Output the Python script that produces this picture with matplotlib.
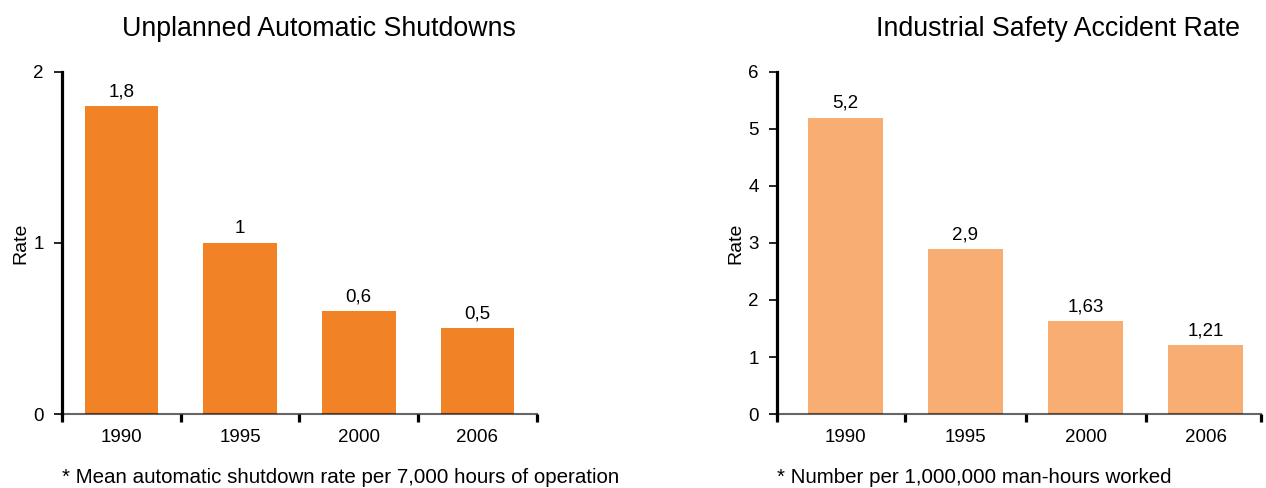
import matplotlib.pyplot as plt
from matplotlib.ticker import FixedLocator

plt.rcParams['font.family'] = ['Liberation Sans', 'DejaVu Sans']

years = ['1990', '1995', '2000', '2006']

shutdown_rate = [1.8, 1, 0.6, 0.5]
accident_rate = [5.2, 2.9, 1.63, 1.21]

shutdown_title = 'Unplanned Automatic Shutdowns'
accident_title = 'Industrial Safety Accident Rate'
shutdown_note = '* Mean automatic shutdown rate per 7,000 hours of operation'
accident_note = '* Number per 1,000,000 man-hours worked'

shutdown_yticks = [0, 1, 2]
accident_yticks = [0, 1, 2, 3, 4, 5, 6]


def fmt(v):
    # decimal comma, drop trailing ".0"
    s = f'{v:g}'
    return s.replace('.', ',')


def draw_panel(ax, values, color, yticks, xlim, width, title, note):
    x = range(len(values))
    ax.bar(x, values, width=width, color=color, zorder=2)
    for xi, v in zip(x, values):
        ax.annotate(fmt(v), (xi, v), xytext=(0, 4), textcoords='offset points',
                    ha='center', va='bottom', fontsize=13.5)

    ax.set_xlim(*xlim)
    ax.set_ylim(yticks[0], yticks[-1])

    for side in ('top', 'right'):
        ax.spines[side].set_visible(False)
    ax.spines['left'].set_linewidth(2.3)
    ax.spines['left'].set_color('black')
    ax.spines['bottom'].set_linewidth(1.5)
    ax.spines['bottom'].set_color((0, 0, 0, 0.6))
    ax.spines['bottom'].set_zorder(3)

    ax.set_yticks(yticks)
    ax.set_yticklabels([str(t) for t in yticks])
    ax.tick_params(axis='y', direction='out', length=6, width=1.2,
                   labelsize=13.5, pad=7)

    # labels under bars, short separator ticks between categories
    ax.set_xticks(list(x))
    ax.set_xticklabels(years)
    ax.tick_params(axis='x', which='major', length=0, labelsize=13.5, pad=11)
    seps = [xlim[0]] + [i + 0.5 for i in range(len(values) - 1)] + [xlim[1]]
    ax.xaxis.set_minor_locator(FixedLocator(seps))
    ax.tick_params(axis='x', which='minor', direction='out', length=6,
                   width=2.3, color='black')

    ax.set_ylabel('Rate', fontsize=14, labelpad=3)

    ax.text(0.957, 1.125, title, transform=ax.transAxes, ha='right',
            va='center', fontsize=19.3)
    ax.text(0.0, -0.185, note, transform=ax.transAxes, ha='left',
            va='center', fontsize=14.8)


fig = plt.figure(figsize=(12.66, 4.88), dpi=100)
ax1 = fig.add_axes([0.049, 0.1516, 0.375, 0.701])
ax2 = fig.add_axes([0.6137, 0.1516, 0.3823, 0.701])

draw_panel(ax1, shutdown_rate, '#F28226', shutdown_yticks, (-0.5, 3.5), 0.62,
           shutdown_title, shutdown_note)
draw_panel(ax2, accident_rate, '#F8AD72', accident_yticks, (-0.57, 3.46), 0.625,
           accident_title, accident_note)

fig.savefig('out.png', dpi=100)
